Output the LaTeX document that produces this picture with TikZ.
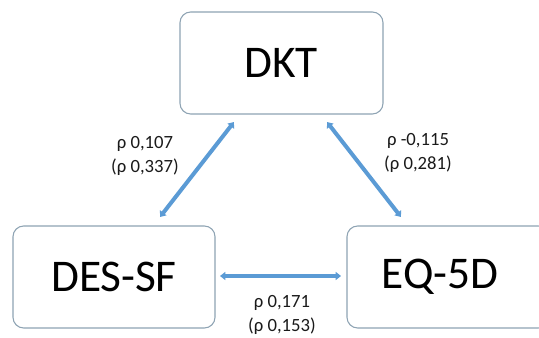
\documentclass[tikz,border=0pt]{standalone}
\usepackage{fontspec}
\setmainfont{Carlito}
\usetikzlibrary{arrows.meta}
\definecolor{boxline}{HTML}{8EA3B3}
\definecolor{arrowblue}{HTML}{5B9BD5}
\definecolor{txt}{HTML}{1A1A1A}
\begin{document}
\begin{tikzpicture}[x=0.75pt,y=-0.75pt,
  boxstyle/.style={draw=boxline,line width=0.8pt,rounded corners=8pt,fill=white},
  bigtext/.style={font=\fontsize{34}{40}\selectfont,text=black},
  lbl/.style={font=\fontsize{14}{18.5}\selectfont,text=txt,align=center},
  conn/.style={draw=arrowblue,line width=3pt,{Triangle[length=4pt,width=6pt]}-{Triangle[length=4pt,width=6pt]}}]
\useasboundingbox (0,0) rectangle (539,338);
\begin{scope}
\clip (0,0) rectangle (539,338);
\draw[boxstyle] (180,12) rectangle (383,114);
\draw[boxstyle] (13,226) rectangle (215,328);
\draw[boxstyle] (347,226) rectangle (549,328);
\end{scope}
\node[bigtext] (dkt) at (281,63) {DKT};
\node[bigtext] (des) at (114,277) {DES-SF};
\node[bigtext] (eq) at (440,277) {EQ-5D};
\coordinate (a1) at (160,217);
\coordinate (a2) at (234,122);
\coordinate (b1) at (327,122);
\coordinate (b2) at (401,217);
\coordinate (c1) at (220,276);
\coordinate (c2) at (341,276);
\draw[conn] (a1) -- (a2);
\draw[conn] (b1) -- (b2);
\draw[conn] (c1) -- (c2);
\node[lbl] (l1) at (145,156) {ρ 0,107\\(ρ 0,337)};
\node[lbl] (l2) at (418,153) {ρ -0,115\\(ρ 0,281)};
\node[lbl] (l3) at (282,315) {ρ 0,171\\(ρ 0,153)};
\end{tikzpicture}
\end{document}
